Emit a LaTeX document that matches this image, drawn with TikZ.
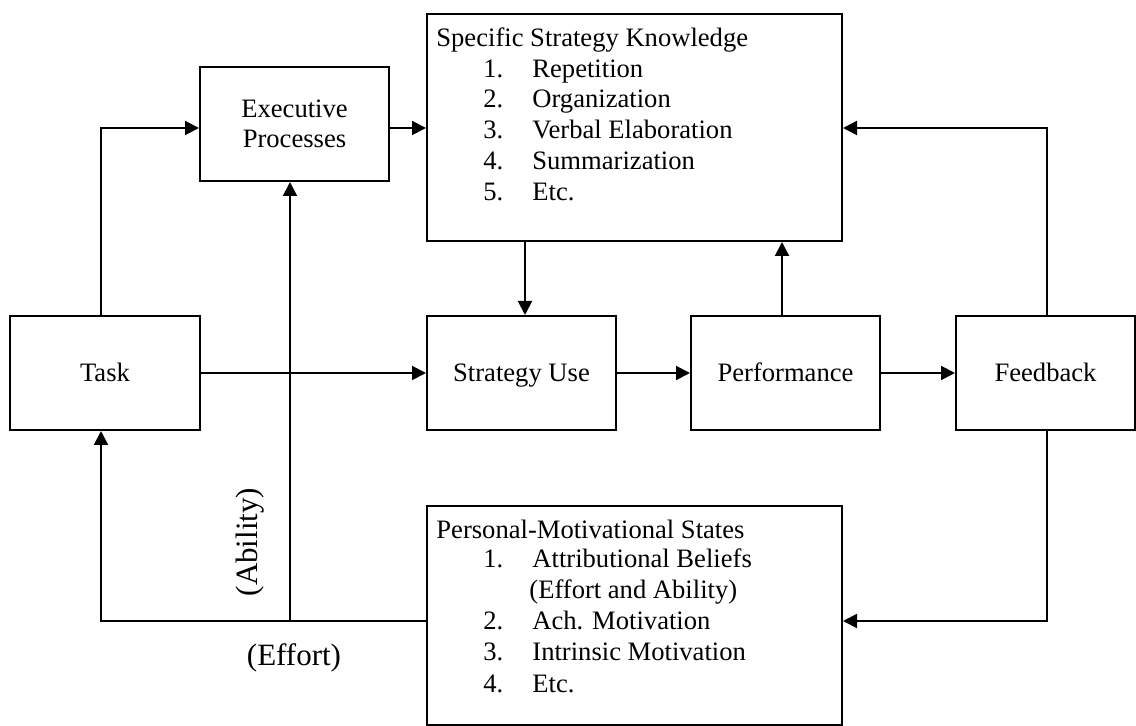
\documentclass[tikz,border=0pt]{standalone}
\usepackage{fontspec}
\setmainfont{Liberation Serif}
\usetikzlibrary{arrows.meta}
\begin{document}
\begin{tikzpicture}[x=0.5pt,y=-0.5pt,
  box/.style={draw, line width=1pt, inner sep=0pt, align=center, font=\fontsize{13.3}{15.3}\selectfont},
  onebox/.style={box, text height=11pt, text depth=2pt},
  conn/.style={line width=1pt, -{Triangle[length=7pt,width=7pt]}},
  txt/.style={inner sep=0pt, anchor=base west, font=\fontsize{13.3}{15.3}\selectfont},
  lbl/.style={inner sep=0pt, font=\fontsize{15.5}{18}\selectfont}]
\useasboundingbox (0,0) rectangle (1136,726);
% boxes
\node[box, minimum width=94.5pt, minimum height=57pt] (exec) at (294.5,124) {Executive\\Processes};
\node[box, minimum width=207.5pt, minimum height=113.5pt] (ssk) at (634.5,127.5) {};
\node[onebox, minimum width=95pt, minimum height=57pt] (task) at (105,373) {Task};
\node[onebox, minimum width=94.5pt, minimum height=57pt] (su) at (521.5,373) {Strategy Use};
\node[onebox, minimum width=94.5pt, minimum height=57pt] (perf) at (785.5,373) {Performance};
\node[onebox, minimum width=89.5pt, minimum height=57pt] (fb) at (1045.5,373) {Feedback};
\node[box, minimum width=207.5pt, minimum height=109.5pt] (pms) at (634.5,615.5) {};
% box texts
\node[txt] (ssktitle) at (436,47) {Specific Strategy Knowledge};
\node[txt] (sn1) at (483,78) {1.};  \node[txt] (st1) at (532,78) {Repetition};
\node[txt] (sn2) at (483,108) {2.}; \node[txt] (st2) at (532,108) {Organization};
\node[txt] (sn3) at (483,139) {3.}; \node[txt] (st3) at (532,139) {Verbal Elaboration};
\node[txt] (sn4) at (483,170) {4.}; \node[txt] (st4) at (532,170) {Summarization};
\node[txt] (sn5) at (483,201) {5.}; \node[txt] (st5) at (532,201) {Etc.};
\node[txt] (pmstitle) at (436,539) {Personal-Motivational States};
\node[txt] (pn1) at (483,568) {1.}; \node[txt] (pt1) at (532,568) {Attributional Beliefs};
\node[txt] (pt1b) at (529,599) {(Effort and Ability)};
\node[txt] (pn2) at (483,630) {2.}; \node[txt] (pt2) at (532,630) {Ach. Motivation};
\node[txt] (pn3) at (483,661) {3.}; \node[txt] (pt3) at (532,661) {Intrinsic Motivation};
\node[txt] (pn4) at (483,693) {4.}; \node[txt] (pt4) at (532,693) {Etc.};
% labels
\node[lbl, rotate=90] (ability) at (250,542) {(Ability)};
\node[lbl] (effort) at (294,658) {(Effort)};
% helper coordinates
\coordinate (tk) at (101,128);
\coordinate (ab) at (290,621);
\coordinate (sk) at (525,0);
\coordinate (pf) at (782,0);
\coordinate (fx) at (1047,0);
% connectors
\draw[conn] (task.north -| tk) |- (exec.west |- tk);
\draw[conn] (exec.east |- tk) -- (ssk.west |- tk);
\draw[conn] (ab) -- (exec.south -| ab);
\draw[conn] (pms.west |- ab) -| (task.south -| tk);
\draw[conn] (task.east) -- (su.west);
\draw[conn] (ssk.south -| sk) -- (su.north -| sk);
\draw[conn] (su.east) -- (perf.west);
\draw[conn] (perf.north -| pf) -- (ssk.south -| pf);
\draw[conn] (perf.east) -- (fb.west);
\draw[conn] (fb.north -| fx) |- (ssk.east |- tk);
\draw[conn] (fb.south -| fx) |- (pms.east |- ab);
\end{tikzpicture}
\end{document}
